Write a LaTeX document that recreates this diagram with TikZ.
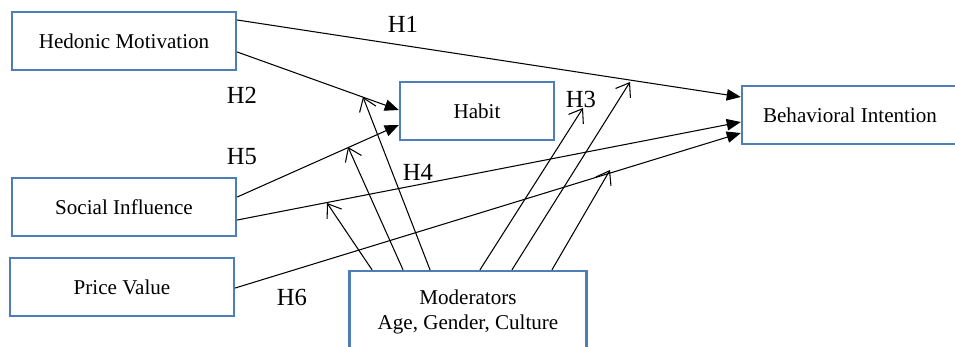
\documentclass[tikz,border=0pt]{standalone}
\usepackage{fontspec}
\setmainfont{Liberation Serif}
\newfontfamily\diagfont{Liberation Serif}
\usetikzlibrary{arrows.meta}
\definecolor{boxblue}{RGB}{79,126,182}

\begin{document}
\begin{tikzpicture}[x=.02cm,y=-.02cm,line cap=round,
    construct/.style={draw=boxblue,line width=1.4pt,inner sep=0pt,
      minimum height=1.16cm,font=\diagfont\fontsize{12}{14}\selectfont,align=center},
    hyp/.style={font=\diagfont\fontsize{14}{17}\selectfont},
    path/.style={line width=.6pt,-{Triangle[length=8pt,width=6.5pt]}},
    moderate/.style={line width=.6pt,-{Straight Barb[length=7pt,width=10pt]}}]
  \useasboundingbox (0,0) rectangle (955,347);

  % constructs
  \node[construct,minimum width=4.48cm] (hm) at (124,41) {Hedonic Motivation};
  \node[construct,minimum width=3.08cm] (hab) at (477,111) {Habit};
  \node[construct,minimum width=4.32cm] (bi) at (850,115) {Behavioral Intention};
  \node[construct,minimum width=4.48cm] (si) at (124,207) {Social Influence};
  \node[construct,minimum width=4.48cm] (pv) at (122,287) {Price Value};
  \node[construct,minimum width=4.74cm,minimum height=1.64cm] (mod) at (468,312)
    {Moderators\\Age, Gender, Culture};

  % hypotheses
  \draw[path] (hm.east |- 0,20) -- (bi.west |- 0,97);
  \draw[path] (hm.east |- 0,52) -- (hab.west |- 0,110);
  \draw[path] (si.east |- 0,197) -- (hab.west |- 0,125);
  \draw[path] (si.east |- 0,220) -- (bi.west |- 0,122);
  \draw[path] (pv.east |- 0,288) -- (bi.west |- 0,133);

  \node[hyp] (h1) at (403,24) {H1};
  \node[hyp] (h2) at (242,95) {H2};
  \node[hyp] (h3) at (581,99) {H3};
  \node[hyp] (h4) at (418,172) {H4};
  \node[hyp] (h5) at (242,157) {H5};
  \node[hyp] (h6) at (292,297) {H6};

  % moderating effects
  \coordinate (onh4) at (327,203);
  \coordinate (onh5) at (348,147);
  \coordinate (onh2) at (363,97);
  \coordinate (onh3) at (583,108);
  \coordinate (onh1) at (630,82);
  \coordinate (onh6) at (610,170);
  \draw[moderate] (mod.north -| 372,0) -- (onh4);
  \draw[moderate] (mod.north -| 403,0) -- (onh5);
  \draw[moderate] (mod.north -| 430,0) -- (onh2);
  \draw[moderate] (mod.north -| 480,0) -- (onh3);
  \draw[moderate] (mod.north -| 512,0) -- (onh1);
  \draw[moderate] (mod.north -| 552,0) -- (onh6);
\end{tikzpicture}
\end{document}
